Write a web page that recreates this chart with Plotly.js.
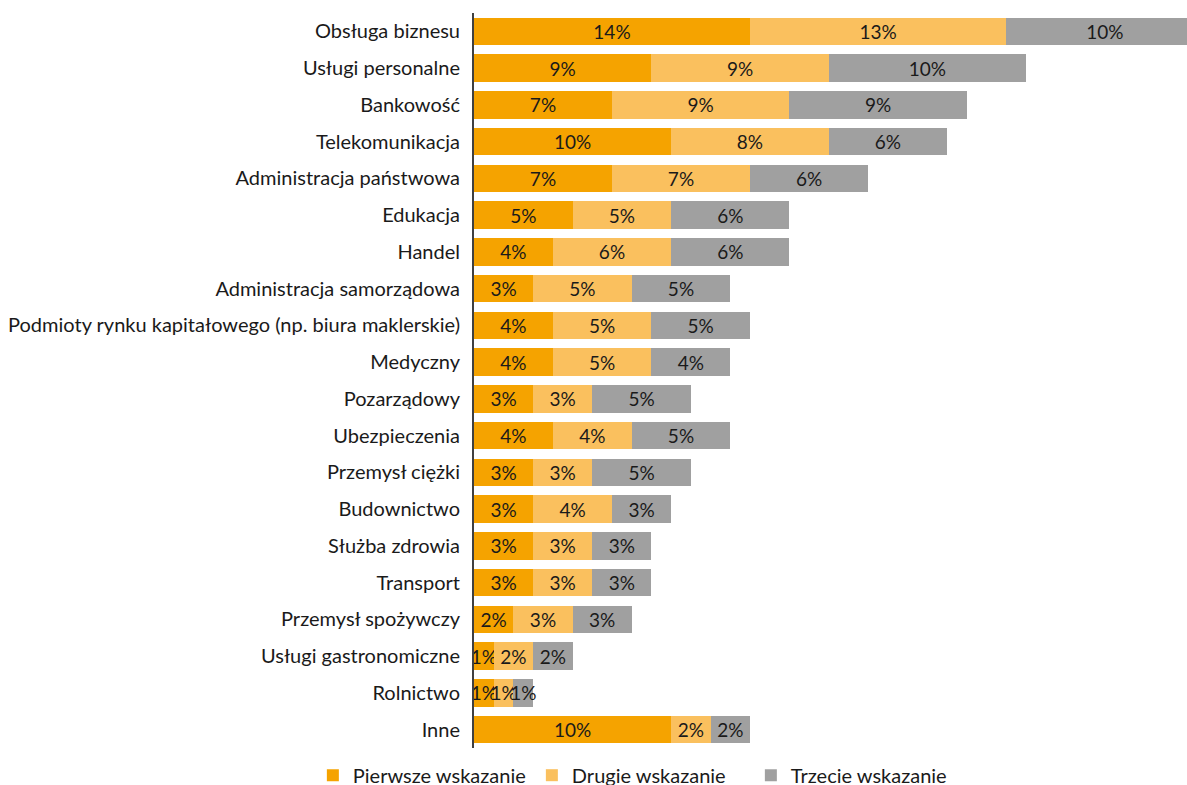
<!DOCTYPE html>
<html>
<head>
<meta charset="utf-8">
<script src="https://cdn.plot.ly/plotly-3.0.1.min.js"></script>
<style>
  html, body { margin: 0; padding: 0; background: #ffffff; }
  #chart { width: 1187px; height: 785px; }
</style>
</head>
<body>
<div id="chart"></div>
<script>
// Sectors, top to bottom
const categories = [
  "Obsługa biznesu",
  "Usługi personalne",
  "Bankowość",
  "Telekomunikacja",
  "Administracja państwowa",
  "Edukacja",
  "Handel",
  "Administracja samorządowa",
  "Podmioty rynku kapitałowego (np. biura maklerskie)",
  "Medyczny",
  "Pozarządowy",
  "Ubezpieczenia",
  "Przemysł ciężki",
  "Budownictwo",
  "Służba zdrowia",
  "Transport",
  "Przemysł spożywczy",
  "Usługi gastronomiczne",
  "Rolnictwo",
  "Inne"
];

// Share of answers (%) per choice
const pierwsze = [14, 9, 7, 10, 7, 5, 4, 3, 4, 4, 3, 4, 3, 3, 3, 3, 2, 1, 1, 10];
const drugie   = [13, 9, 9, 8, 7, 5, 6, 5, 5, 5, 3, 4, 3, 4, 3, 3, 3, 2, 1, 2];
const trzecie  = [10, 10, 9, 6, 6, 6, 6, 5, 5, 4, 5, 5, 5, 3, 3, 3, 3, 2, 1, 2];

const seriesNames = ["Pierwsze wskazanie", "Drugie wskazanie", "Trzecie wskazanie"];
const seriesColors = ["#F5A300", "#FAC05E", "#A0A0A0"];

const FONT = "Lato, 'Open Sans', 'DejaVu Sans', sans-serif";
const TEXT_COLOR = "#1a1a1a";

const traces = [pierwsze, drugie, trzecie].map((vals, i) => ({
  type: "bar",
  orientation: "h",
  name: seriesNames[i],
  y: categories,
  x: vals,
  marker: { color: seriesColors[i], line: { width: 0 } },
  text: vals.map(v => v + "%"),
  textposition: "inside",
  insidetextanchor: "middle",
  textangle: 0,
  constraintext: "none",
  insidetextfont: { family: FONT, size: 19, color: TEXT_COLOR },
  hoverinfo: "name+y+x"
}));

const layout = {
  width: 1187,
  height: 785,
  barmode: "stack",
  bargap: 0.25,
  paper_bgcolor: "#ffffff",
  plot_bgcolor: "#ffffff",
  margin: { l: 474, r: 0, t: 13, b: 37, pad: 0, autoexpand: false },
  font: { family: FONT, size: 19, color: TEXT_COLOR },
  uniformtext: { mode: "show", minsize: 19 },
  showlegend: true,
  legend: {
    orientation: "h",
    x: -0.226,
    xanchor: "left",
    y: -0.037,
    yanchor: "middle",
    entrywidth: 174,
    entrywidthmode: "pixels",
    font: { family: FONT, size: 20, color: TEXT_COLOR },
    traceorder: "normal",
    bgcolor: "rgba(0,0,0,0)"
  },
  xaxis: {
    range: [0, 36.17],
    showgrid: false,
    zeroline: false,
    showline: false,
    showticklabels: false,
    ticks: "",
    fixedrange: true
  },
  yaxis: {
    type: "category",
    autorange: "reversed",
    showgrid: false,
    zeroline: false,
    showline: true,
    linecolor: "#404040",
    linewidth: 2,
    ticks: "",
    ticklabelstandoff: 8,
    tickfont: { family: FONT, size: 20, color: TEXT_COLOR },
    fixedrange: true
  }
};

Plotly.newPlot("chart", traces, layout, { displayModeBar: false, staticPlot: true });
</script>
</body>
</html>
